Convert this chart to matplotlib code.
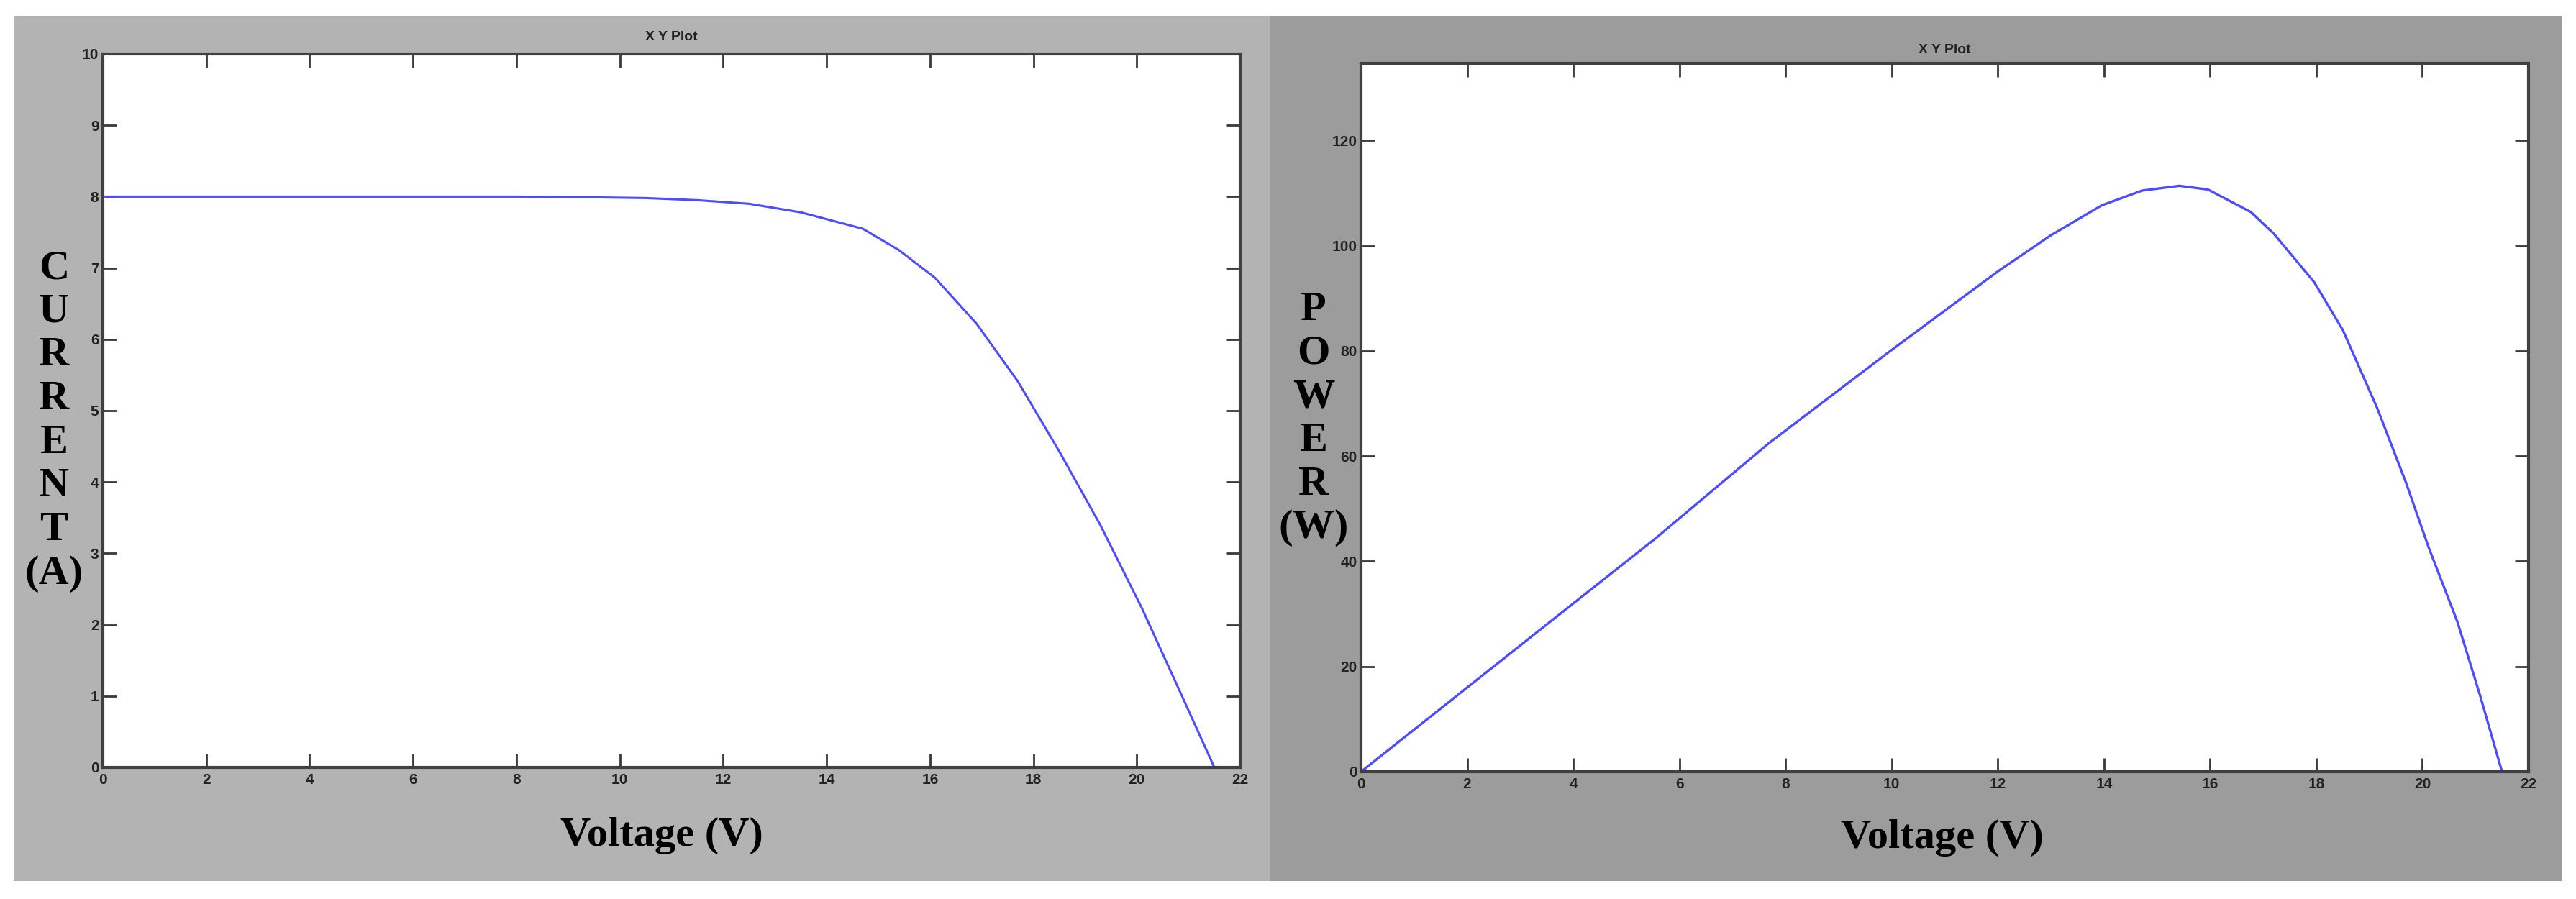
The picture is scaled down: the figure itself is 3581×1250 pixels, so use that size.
import matplotlib
matplotlib.use("Agg")
import matplotlib.pyplot as plt
from matplotlib.patches import Rectangle

# ---------------- data ----------------
iv_voltage = [0, 2, 4, 6, 8, 9.5, 10.5, 11.5, 12.5, 13.5, 14.7, 15.4, 16.1,
              16.9, 17.7, 18.5, 19.3, 20.1, 20.9, 21.5]
iv_current = [8.0, 8.0, 8.0, 8.0, 8.0, 7.99, 7.98, 7.95, 7.90, 7.78, 7.55, 7.25,
              6.86, 6.22, 5.41, 4.43, 3.39, 2.23, 0.96, 0.0]

pv_voltage = [0, 2, 4, 5.53, 7.69, 9.96, 12.01, 13.0, 13.96, 14.72, 15.42, 15.96,
              16.77, 17.2, 17.96, 18.5, 19.15, 19.69, 20.12, 20.66, 21.09, 21.5]
pv_power = [0, 16, 32, 44.2, 62.5, 79.9, 95.2, 102, 107.7, 110.5, 111.4, 110.7,
            106.4, 102.3, 93.1, 84.0, 69.1, 55.0, 42.6, 28.5, 14.4, 0]

x_ticks = [0, 2, 4, 6, 8, 10, 12, 14, 16, 18, 20, 22]
iv_yticks = [0, 1, 2, 3, 4, 5, 6, 7, 8, 9, 10]
pv_yticks = [0, 20, 40, 60, 80, 100, 120]

title_text = "X Y Plot"
xlabel_text = "Voltage (V)"
iv_ylabel_lines = ["C", "U", "R", "R", "E", "N", "T", "(A)"]
pv_ylabel_lines = ["P", "O", "W", "E", "R", "(W)"]

# ---------------- figure ----------------
W, H = 3581, 1250
fig = plt.figure(figsize=(W / 100, H / 100), dpi=100)
fig.patch.set_facecolor("white")

def fx(px):
    return px / W

def fy(py):
    return 1 - py / H

# panel backgrounds
fig.patches.append(Rectangle((fx(19), fy(1225)), fx(1766) - fx(19), fy(22) - fy(1225),
                             transform=fig.transFigure, facecolor="#b3b3b3",
                             edgecolor="none", zorder=-10))
fig.patches.append(Rectangle((fx(1766), fy(1225)), fx(3561) - fx(1766), fy(22) - fy(1225),
                             transform=fig.transFigure, facecolor="#9c9c9c",
                             edgecolor="none", zorder=-10))

def make_axes(l, t, r, b):
    return fig.add_axes([fx(l), fy(b), fx(r) - fx(l), fy(t) - fy(b)])

ax1 = make_axes(143, 75, 1724, 1067)
ax2 = make_axes(1892, 88, 3515, 1073)

line_color = "#4d4dff"
tick_font = dict(family=["Liberation Sans Narrow", "Liberation Sans"], weight="bold", size=15)
serif = ["Liberation Serif", "DejaVu Serif"]

def style(ax, yticks, ylim, title_pad):
    ax.set_facecolor("white")
    ax.set_xlim(0, 22)
    ax.set_ylim(*ylim)
    ax.set_xticks(x_ticks)
    ax.set_yticks(yticks)
    ax.set_xticklabels([str(v) for v in x_ticks], fontdict=tick_font, color="#222222")
    ax.set_yticklabels([str(v) for v in yticks], fontdict=tick_font, color="#222222")
    ax.tick_params(direction="in", length=14, width=2.0, color="#3a3a3a",
                   top=True, right=True, labeltop=False, labelright=False)
    ax.tick_params(axis="x", pad=6)
    ax.tick_params(axis="y", pad=4)
    for s in ax.spines.values():
        s.set_color("#404040")
        s.set_linewidth(3.0)
    ax.set_title(title_text, fontdict=dict(family=["Liberation Sans Narrow", "Liberation Sans"],
                                           weight="bold", size=14),
                 color="#222222", pad=title_pad)

ax1.plot(iv_voltage, iv_current, color=line_color, lw=2.2, clip_on=False)
style(ax1, iv_yticks, (0, 10), 14)

ax2.plot(pv_voltage, pv_power, color=line_color, lw=2.4, clip_on=False)
style(ax2, pv_yticks, (0, 134.7), 10)

# x labels
fig.text(fx(920), fy(1162), xlabel_text, family=serif, weight="bold", size=42,
         ha="center", va="center", color="black")
fig.text(fx(2700), fy(1165), xlabel_text, family=serif, weight="bold", size=42,
         ha="center", va="center", color="black")

# stacked y labels
pitch = 60.7
for i, s in enumerate(iv_ylabel_lines):
    fig.text(fx(75), fy(373 + i * pitch), s, family=serif, weight="bold", size=42,
             ha="center", va="center", color="black")
for i, s in enumerate(pv_ylabel_lines):
    fig.text(fx(1826), fy(431 + i * pitch), s, family=serif, weight="bold", size=42,
             ha="center", va="center", color="black")

fig.savefig("out.png", dpi=100, facecolor="white")
